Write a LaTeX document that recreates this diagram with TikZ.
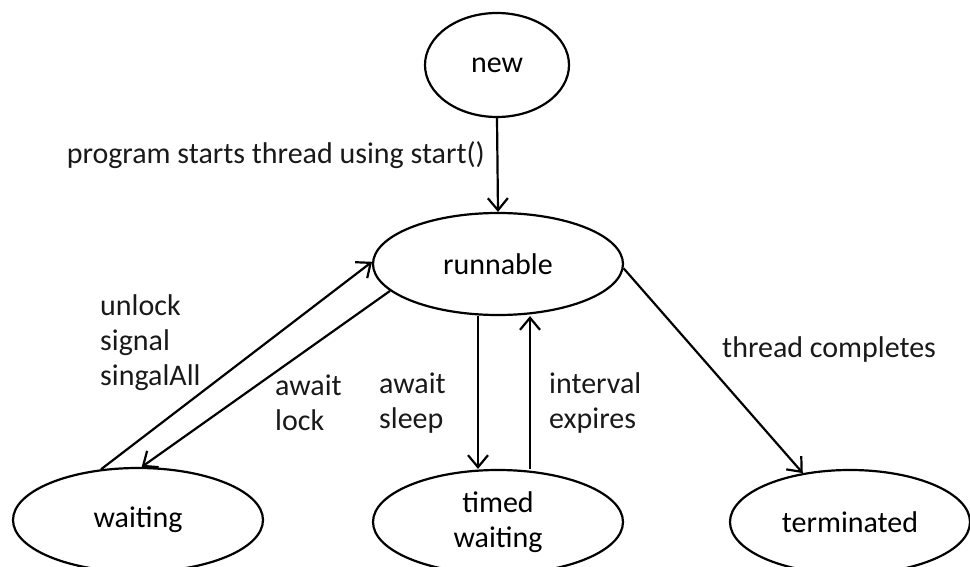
\documentclass[tikz,border=0pt]{standalone}
\usepackage{fontspec}
\setmainfont{Carlito}
\usetikzlibrary{shapes.geometric, arrows.meta}

\begin{document}
\begin{tikzpicture}[x=1pt, y=-1pt,
  state/.style = {draw, ellipse, line width=2.2pt, inner sep=0pt,
                  minimum width=250pt, minimum height=104pt, align=center},
  lbl/.style = {inner sep=0pt, align=left, text=black!90},
  trans/.style = {line width=2.2pt, -{Straight Barb[length=12pt, width=20pt, line width=2.2pt]}},
  every node/.style = {font=\fontsize{30}{35}\selectfont}]
\useasboundingbox (0,0) rectangle (970,567);
\node[state, minimum width=144pt] (new) at (497,65) {new};
\node[state, minimum height=102pt] (runnable) at (498,264) {runnable};
\node[state] (waiting) at (138,520) {waiting};
\node[state] (timed) at (498,522) {timed\\waiting};
\node[state, minimum width=240pt] (terminated) at (850,522) {terminated};
% transitions
\draw[trans] (new.south) -- (runnable.north);
\draw[trans] (waiting.126) -- (runnable.179);
\draw[trans] (runnable.194) -- (waiting.86);
\draw[trans] ([xshift=-20pt]runnable.south) -- ([xshift=-20pt]timed.north);
\draw[trans] ([xshift=32pt]timed.north) -- ([xshift=32pt]runnable.south);
\draw[trans] (runnable.358) -- (terminated.134);
% labels
\node[lbl, anchor=east] (lstart) at (485,155) {program starts thread using start()};
\node[lbl, anchor=west] (lunlock) at (100,343) {unlock\\signal\\singalAll};
\node[lbl, anchor=west] (lawait) at (275,403) {await\\lock};
\node[lbl, anchor=west] (lsleep) at (379,403) {await\\sleep};
\node[lbl, anchor=west] (linterval) at (549,403) {interval\\expires};
\node[lbl, anchor=west] (ldone) at (722,350) {thread completes};
\end{tikzpicture}
\end{document}
